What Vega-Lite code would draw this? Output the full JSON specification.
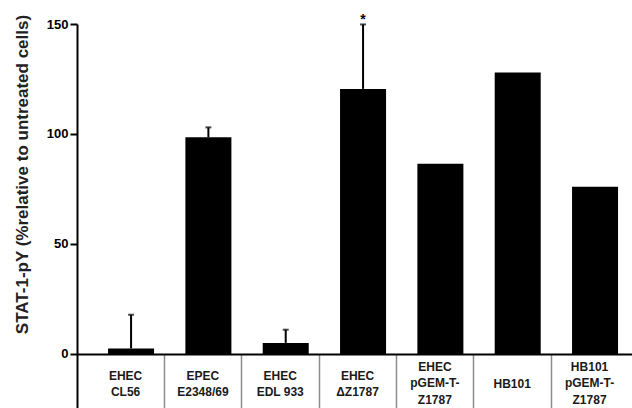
{
  "$schema": "https://vega.github.io/schema/vega-lite/v6.json",
  "width": 555,
  "height": 384,
  "autosize": {"type": "none"},
  "padding": {"left": 77, "top": 24, "right": 0, "bottom": 0},
  "background": "white",
  "config": {"view": {"stroke": null}, "font": "Liberation Sans"},
  "data": {"values": [
    {"strain": "EHEC|CL56", "value": 2.5, "upper": 17.8, "sig": ""},
    {"strain": "EPEC|E2348/69", "value": 98.5, "upper": 103, "sig": ""},
    {"strain": "EHEC|EDL 933", "value": 5, "upper": 11, "sig": ""},
    {"strain": "EHEC|ΔZ1787", "value": 120.5, "upper": 149.8, "sig": "*"},
    {"strain": "EHEC|pGEM-T-|Z1787", "value": 86.5, "upper": null, "sig": ""},
    {"strain": "HB101", "value": 128, "upper": null, "sig": ""},
    {"strain": "HB101|pGEM-T-|Z1787", "value": 76, "upper": null, "sig": ""}
  ]},
  "encoding": {
    "x": {
      "field": "strain",
      "type": "nominal",
      "sort": null,
      "scale": {"paddingInner": 0.405, "paddingOuter": 0.291, "align": 0.69},
      "axis": {
        "title": null,
        "labelExpr": "split(datum.label, '|')",
        "labelAngle": 0,
        "labelFont": "Liberation Sans",
        "labelFontSize": 12,
        "labelFontWeight": "bold",
        "labelColor": "#1a1a1a",
        "labelLineHeight": 16.5,
        "labelBaseline": "middle",
        "labelPadding": {
          "condition": [
            {"test": "length(split(datum.value, '|')) == 3", "value": -42},
            {"test": "length(split(datum.value, '|')) == 2", "value": -33}
          ],
          "value": -25
        },
        "labelOverlap": false,
        "tickSize": 54,
        "tickColor": {
          "condition": {"test": "datum.index == 1", "value": "white"},
          "value": "#8c8c8c"
        },
        "tickWidth": 1.5,
        "bandPosition": 1,
        "tickOffset": 10,
        "labelOffset": -16,
        "domainColor": "black",
        "domainWidth": 2,
        "offset": -54
      }
    }
  },
  "layer": [
    {
      "mark": {"type": "bar", "color": "black"},
      "encoding": {
        "y": {
          "field": "value",
          "type": "quantitative",
          "scale": {"domain": [-24.6, 150], "nice": false, "zero": false},
          "axis": {
            "values": [0, 50, 100, 150],
            "title": "STAT-1-pY (%relative to untreated cells)",
            "titleFont": "Liberation Sans",
            "titleFontSize": 17,
            "titleFontWeight": "bold",
            "titleColor": "#222222",
            "titleAngle": -90,
            "titleX": -55,
            "titleY": 150,
            "titleAlign": "center",
            "titleBaseline": "middle",
            "labelFont": "Liberation Sans",
            "labelFontSize": 13,
            "labelFontWeight": "bold",
            "labelColor": "black",
            "labelPadding": 2,
            "tickSize": 7,
            "tickWidth": 2,
            "tickColor": "black",
            "domainColor": "black",
            "domainWidth": 2,
            "grid": false
          }
        }
      }
    },
    {
      "transform": [{"filter": "isValid(datum.upper)"}],
      "mark": {"type": "rule", "color": "black", "strokeWidth": 2},
      "encoding": {
        "y": {"field": "value", "type": "quantitative"},
        "y2": {"field": "upper"}
      }
    },
    {
      "transform": [{"filter": "isValid(datum.upper)"}],
      "mark": {"type": "tick", "color": "black", "size": 6, "thickness": 2},
      "encoding": {
        "y": {"field": "upper", "type": "quantitative"}
      }
    },
    {
      "transform": [{"filter": "datum.sig != ''"}],
      "mark": {"type": "text", "font": "Liberation Sans", "fontSize": 14, "fontWeight": "bold", "baseline": "alphabetic", "color": "black"},
      "encoding": {
        "y": {"field": "upper", "type": "quantitative"},
        "text": {"field": "sig"}
      }
    }
  ]
}
